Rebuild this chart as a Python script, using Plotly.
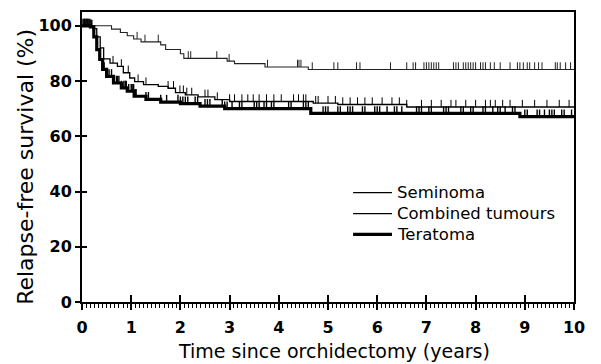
import numpy as np
import plotly.graph_objects as go

# ---- Data ----
sem_t = [0, 0.6, 0.78, 0.92, 1.05, 1.2, 1.6, 1.7, 2.0, 2.07, 2.95, 3.1, 3.72, 4.6, 10]
sem_s = [100, 98.8, 97.6, 96.4, 95.2, 94.2, 93.1, 91.4, 89.9, 88.2, 87.2, 86.3, 85.1, 84.2, 84.2]
sem_cens = [1.12, 1.28, 1.55, 2.16, 2.21, 2.74, 2.99, 3.77, 4.38, 4.41, 4.45, 4.68, 5.12, 5.2,
            5.58, 5.65, 6.27, 6.6, 6.73, 6.78, 6.95, 7.0, 7.05, 7.1, 7.15, 7.2, 7.25, 7.55, 7.6,
            7.65, 7.75, 7.8, 7.85, 7.9, 7.95, 8.0, 8.1, 8.15, 8.2, 8.3, 8.38, 8.5, 8.7, 8.85, 8.9,
            8.97, 9.05, 9.1, 9.2, 9.28, 9.35, 9.62, 9.66, 9.72, 9.83, 9.93]

comb_t = [0, 0.22, 0.3, 0.37, 0.44, 0.57, 0.72, 0.84, 0.97, 1.07, 1.25, 1.55, 1.75, 1.9, 2.1,
          2.36, 2.7, 3.0, 4.7, 5.2, 6.6, 10]
comb_s = [100, 99.0, 96.0, 92.0, 88.0, 86.5, 85.3, 83.0, 81.1, 79.8, 78.7, 78.1, 77.4, 75.8,
          75.0, 74.3, 73.3, 72.6, 72.0, 71.5, 70.6, 70.6]
comb_cens = [0.05, 0.1, 0.63, 0.8, 0.94, 1.14, 1.3, 1.75, 1.86, 1.99, 2.06, 2.13, 2.23, 2.5,
             2.56, 2.75, 3.0, 3.1, 3.25, 3.37, 3.48, 3.6, 3.75, 3.9, 4.05, 4.3, 4.4, 4.5, 4.55,
             4.75, 4.8, 5.0, 5.15, 5.3, 5.45, 5.6, 5.75, 5.9, 6.1, 6.3, 6.45, 6.6, 6.9, 7.1, 7.3,
             7.5, 7.6, 7.8, 8.0, 8.2, 8.3, 8.4, 8.55, 8.7, 8.95, 9.2, 9.45, 9.7, 9.9]

ter_t = [0, 0.17, 0.24, 0.3, 0.36, 0.42, 0.5, 0.64, 0.8, 0.92, 1.06, 1.3, 1.6, 2.0, 2.4, 2.9,
         4.65, 8.9, 10]
ter_s = [100, 99.6, 96.0, 91.4, 87.8, 84.2, 81.7, 79.3, 77.5, 76.3, 74.5, 73.4, 72.4, 71.8,
         70.9, 70.0, 68.3, 67.1, 67.1]
ter_cens = [0.02, 0.04, 0.06, 0.08, 0.1, 0.12, 0.14, 0.16, 0.18, 0.2, 0.45, 0.5, 0.55, 0.6,
            0.65, 0.7, 0.72, 0.75, 0.8, 0.85, 0.88, 0.9, 0.95, 1.0, 1.02, 1.05, 1.08, 1.1, 1.3,
            1.35, 1.6, 1.72, 1.95, 2.0, 2.05, 2.1, 2.15, 2.3, 2.35, 2.5, 2.55, 2.6, 2.85, 2.9,
            2.95, 3.05, 3.2, 3.25, 3.5, 3.55, 3.6, 3.7, 3.75, 3.85, 3.9, 4.2, 4.25, 4.5, 4.55,
            4.6, 4.9, 4.95, 5.0, 5.2, 5.25, 5.4, 5.45, 5.5, 5.7, 5.75, 5.95, 6.0, 6.05, 6.2, 6.35,
            6.4, 6.5, 6.8, 6.85, 6.9, 7.05, 7.1, 7.35, 7.4, 7.45, 7.7, 7.75, 7.9, 7.95, 8.15, 8.2,
            8.35, 8.45, 8.5, 8.6, 8.75, 8.8, 9.0, 9.05, 9.25, 9.3, 9.4, 9.5, 9.55, 9.6, 9.75, 9.8,
            9.95]

x_ticks = [0, 1, 2, 3, 4, 5, 6, 7, 8, 9, 10]
y_ticks = [0, 20, 40, 60, 80, 100]
series_names = ["Seminoma", "Combined tumours", "Teratoma"]
x_title = "Time since orchidectomy (years)"
y_title = "Relapse-free survival (%)"

FONT = "DejaVu Sans"
TICK_H = 2.6  # censor tick height in % units


def surv_at(times, surv, t):
    idx = np.searchsorted(np.array(times), t, side="right") - 1
    return surv[int(idx)]


def censor_segments(times, surv, cens):
    xs, ys = [], []
    for c in cens:
        s = surv_at(times, surv, c)
        xs += [c, c, None]
        ys += [s, s + TICK_H, None]
    return xs, ys


fig = go.Figure()

styles = [
    (sem_t, sem_s, sem_cens, "#222", 1.1, 1.0),
    (comb_t, comb_s, comb_cens, "#000", 1.3, 1.0),
    (ter_t, ter_s, ter_cens, "#000", 3.2, 1.4),
]

for (t, s, cens, col, w, cw), name in zip(styles, series_names):
    fig.add_trace(go.Scatter(x=t, y=s, mode="lines", line=dict(color=col, width=w, shape="hv"),
                             name=name, showlegend=False, hoverinfo="skip"))
    cx, cy = censor_segments(t, s, cens)
    fig.add_trace(go.Scatter(x=cx, y=cy, mode="lines", line=dict(color=col, width=cw),
                             showlegend=False, hoverinfo="skip"))

# invisible trace for overlay axes (inside part of crossing major ticks)
fig.add_trace(go.Scatter(x=[0], y=[0], xaxis="x2", yaxis="y2", mode="markers",
                         marker=dict(opacity=0), showlegend=False, hoverinfo="skip"))

tickfont = dict(size=16, family=FONT, weight="bold")

fig.update_layout(
    width=601, height=364,
    margin=dict(l=82, r=27, t=10, b=62),
    paper_bgcolor="white", plot_bgcolor="white",
    font=dict(family=FONT, color="black"),
    xaxis=dict(range=[0, 10], tickvals=x_ticks, ticks="outside", ticklen=6, tickwidth=1.5,
               tickcolor="black", showline=True, linewidth=2, linecolor="black", mirror=True,
               showgrid=False, zeroline=False, tickfont=tickfont, ticklabelstandoff=4,
               minor=dict(dtick=1 / 12, tick0=0, ticks="outside", ticklen=4, tickwidth=1,
                          tickcolor="black", showgrid=False)),
    yaxis=dict(range=[0, 105], tickvals=y_ticks, ticks="outside", ticklen=5, tickwidth=1.5,
               tickcolor="black", showline=True, linewidth=2, linecolor="black", mirror=True,
               showgrid=False, zeroline=False, tickfont=tickfont),
    xaxis2=dict(range=[0, 10], overlaying="x", anchor="y", side="bottom", tickvals=x_ticks,
                ticks="inside", ticklen=7, tickwidth=1.5, tickcolor="black",
                showticklabels=False, showline=False, showgrid=False, zeroline=False),
    yaxis2=dict(range=[0, 105], overlaying="y", anchor="x", side="left", tickvals=y_ticks,
                ticks="inside", ticklen=5, tickwidth=1.5, tickcolor="black",
                showticklabels=False, showline=False, showgrid=False, zeroline=False),
)

# axis titles as annotations for precise placement
fig.add_annotation(text=x_title, xref="paper", yref="paper", x=0.512, y=0, yshift=-49,
                   xanchor="center", yanchor="middle", showarrow=False,
                   font=dict(size=19, family=FONT))
fig.add_annotation(text=y_title, xref="paper", yref="paper", x=0, y=0.466, xshift=-56,
                   xanchor="center", yanchor="middle", textangle=-90, showarrow=False,
                   font=dict(size=22, family=FONT))

# custom legend
leg_y = [0.377, 0.305, 0.233]
leg_w = [1.1, 1.3, 3.2]
for name, yy, w in zip(series_names, leg_y, leg_w):
    fig.add_shape(type="line", xref="paper", yref="paper", x0=0.551, x1=0.630, y0=yy, y1=yy,
                  line=dict(color="black", width=w))
    fig.add_annotation(x=0.636, y=yy, xref="paper", yref="paper", text=name, showarrow=False,
                       xanchor="left", yanchor="middle", font=dict(size=16.5, family=FONT))

fig.write_html("out.html")
